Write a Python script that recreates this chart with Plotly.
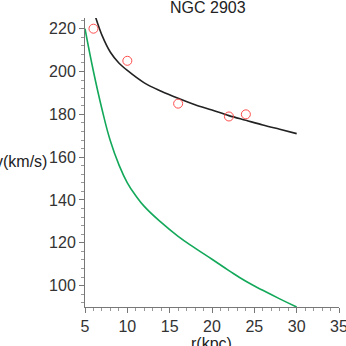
import plotly.graph_objects as go

# Observed rotation curve points (red open circles)
obs_r = [6, 10, 16, 22, 24]
obs_v = [220, 205, 185, 179, 180]

# Fitted model curve (black)
fit_r = [6.2, 7, 8, 9, 10, 12, 14, 16, 18, 20, 22, 24, 26, 28, 30]
fit_v = [226, 217, 209, 204, 200.5, 194.7, 190.8, 187.5, 184.5, 182, 179.4, 177.2, 175, 173, 171]

# Second curve (green)
grn_r = [5, 6, 7, 8, 9, 10, 11, 12, 14, 16, 18, 20, 22, 24, 26, 28, 30]
grn_v = [220, 200, 182.5, 167.5, 156.5, 148, 142, 137, 129.5, 123, 117.5, 112.3, 107, 102, 97.8, 93.8, 90]

title_text = "NGC 2903"
x_label = "r(kpc)"
y_label = "v(km/s)"

FONT = "Liberation Sans, Arial, sans-serif"

fig = go.Figure()
fig.add_trace(go.Scatter(x=grn_r, y=grn_v, mode="lines",
                         line=dict(color="#13a85a", width=1.6, shape="spline", smoothing=1.3),
                         showlegend=False, hoverinfo="skip"))
fig.add_trace(go.Scatter(x=fit_r, y=fit_v, mode="lines",
                         line=dict(color="#222222", width=1.6, shape="spline", smoothing=1.0),
                         showlegend=False, hoverinfo="skip"))
fig.add_trace(go.Scatter(x=obs_r, y=obs_v, mode="markers",
                         marker=dict(symbol="circle-open", size=9, color="#ff4d4d",
                                     line=dict(width=1, color="#ff4d4d")),
                         showlegend=False, cliponaxis=False))

axis_common = dict(
    showgrid=False, zeroline=False, showline=True, linecolor="#777777", linewidth=1,
    ticks="outside", ticklen=5, tickcolor="#777777", tickwidth=1,
    tickfont=dict(family=FONT, size=16, color="#333333"),
    ticklabeloverflow="allow", automargin=False,
)

fig.update_xaxes(range=[5, 35], tick0=5, dtick=5,
                 minor=dict(dtick=1, ticks="outside", ticklen=3, tickcolor="#999999"),
                 **axis_common)
fig.update_yaxes(range=[90, 225], tick0=100, dtick=20,
                 minor=dict(dtick=4, ticks="outside", ticklen=3, tickcolor="#999999"),
                 **axis_common)

fig.update_layout(
    width=346, height=346,
    margin=dict(l=85, r=7, t=18, b=39),
    paper_bgcolor="white", plot_bgcolor="white",
    font=dict(family=FONT, color="#333333"),
    annotations=[
        dict(text=title_text, xref="paper", yref="paper", x=0.5, y=1,
             xanchor="center", yanchor="bottom", xshift=-4, yshift=0,
             showarrow=False, font=dict(family=FONT, size=16, color="#222222")),
        dict(text=y_label, xref="paper", yref="paper", x=0, y=0.503,
             xanchor="right", yanchor="middle", xshift=-36,
             showarrow=False, font=dict(family=FONT, size=16, color="#222222")),
        dict(text=x_label, xref="paper", yref="paper", x=0.5, y=0,
             xanchor="center", yanchor="top", yshift=-26, xshift=-1,
             showarrow=False, font=dict(family=FONT, size=16, color="#222222")),
    ],
)

fig.write_html("out.html", config={"displayModeBar": False},
               post_script="document.body.style.margin='0';document.body.style.overflow='hidden';")
